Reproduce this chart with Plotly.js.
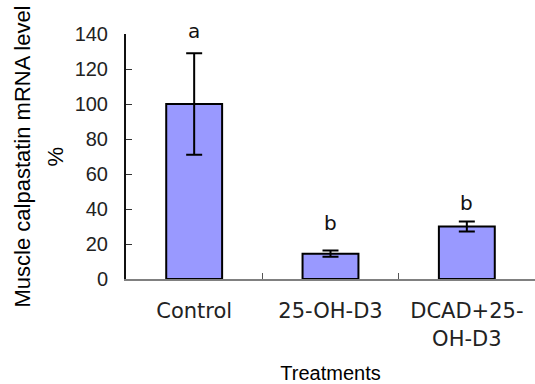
<!DOCTYPE html>
<html>
<head>
<meta charset="utf-8">
<script src="https://cdn.plot.ly/plotly-3.0.1.min.js"></script>
<style>html,body{margin:0;padding:0;background:#fff;}#chart{width:535px;height:384px;}</style>
</head>
<body>
<div id="chart"></div>
<script>
var categories = ["Control", "25-OH-D3", "DCAD+25-<br>OH-D3"];
var values = [100, 14.5, 30];
var errors = [29, 1.8, 2.8];
var letters = ["a", "b", "b"];
var letterShift = [8, 13, 5];
var yTicks = [0, 20, 40, 60, 80, 100, 120, 140];
var yTitleLines = ["Muscle calpastatin mRNA level", "%"];

var trace = {
  type: "bar",
  x: categories,
  y: values,
  width: 0.41,
  marker: {color: "#9999ff", line: {color: "#000", width: 2}},
  error_y: {type: "data", array: errors, visible: true, color: "#000", thickness: 2, width: 8},
  hoverinfo: "none"
};

var annotations = categories.map(function (c, i) {
  return {
    x: c, y: values[i] + errors[i], xref: "x", yref: "y",
    text: letters[i], showarrow: false, yanchor: "bottom", yshift: letterShift[i],
    font: {family: "DejaVu Sans", size: 20, color: "#111"}
  };
});

var titleXpx = [22, 55];
yTitleLines.forEach(function (t, i) {
  annotations.push({
    xref: "paper", yref: "paper", x: 0, y: 0.5,
    xanchor: "center", yanchor: "middle",
    xshift: titleXpx[i] - 126,
    text: t, textangle: -90, showarrow: false,
    font: {family: "Liberation Sans", size: 22, color: "#000"}
  });
});

var layout = {
  width: 535, height: 384,
  margin: {l: 126, r: 0, t: 34, b: 105},
  paper_bgcolor: "#fff", plot_bgcolor: "#fff",
  showlegend: false,
  xaxis: {
    type: "category",
    showgrid: false, zeroline: false,
    showline: true, linecolor: "#808080", linewidth: 2,
    ticks: "inside", tickson: "boundaries", ticklen: 6, tickcolor: "#555", tickwidth: 1,
    tickfont: {family: "DejaVu Sans", size: 21, color: "#222"},
    ticklabelstandoff: 12,
    title: {text: "Treatments", font: {family: "Liberation Sans", size: 20, color: "#000"}, standoff: 16}
  },
  yaxis: {
    range: [0, 140],
    tickvals: yTicks,
    showgrid: false, zeroline: false,
    showline: true, linecolor: "#111", linewidth: 2,
    ticks: "inside", ticklen: 6, tickcolor: "#333", tickwidth: 1,
    tickfont: {family: "Liberation Sans", size: 20, color: "#222"},
    ticklabelstandoff: 12
  },
  annotations: annotations
};

Plotly.newPlot("chart", [trace], layout, {displayModeBar: false, staticPlot: true});
</script>
</body>
</html>
